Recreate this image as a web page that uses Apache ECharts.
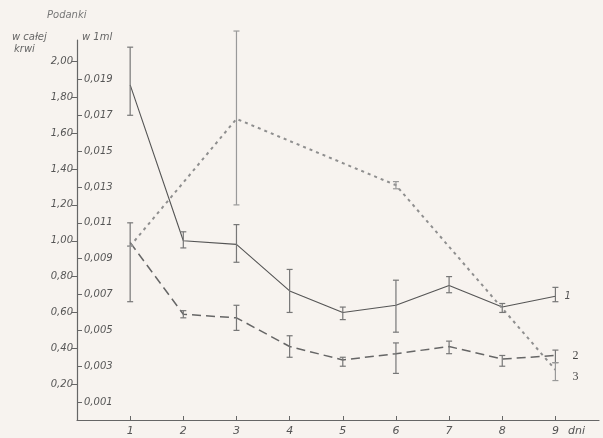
<!DOCTYPE html>
<html><head><meta charset="utf-8">
<script src="https://cdn.jsdelivr.net/npm/echarts@6/dist/echarts.min.js"></script>
<style>html,body{margin:0;padding:0;background:#f7f3ef}#c{width:603px;height:438px}</style>
</head><body><div id="c"></div>
<script>
const days = [1,2,3,4,5,6,7,8,9];
const s1 = [1.87,1.00,0.98,0.72,0.60,0.64,0.75,0.63,0.69];
const s1Low = [1.70,0.96,0.88,0.60,0.56,0.49,0.71,0.60,0.66];
const s1High = [2.08,1.05,1.09,0.84,0.63,0.78,0.80,0.65,0.74];
const s2 = [0.99,0.59,0.57,0.41,0.335,0.37,0.41,0.34,0.36];
const s2Low = [0.66,0.57,0.50,0.35,0.30,0.26,0.37,0.30,0.32];
const s2High = [1.10,0.61,0.64,0.47,0.35,0.43,0.44,0.36,0.39];
const s3Days = [1,3,6,9];
const s3 = [0.97,1.68,1.31,0.28];
const s3Low = [0.97,1.20,1.29,0.22];
const s3High = [0.97,2.17,1.33,0.32];
const leftTicks = [0.2,0.4,0.6,0.8,1.0,1.2,1.4,1.6,1.8,2.0];
const rightTicks = [0.1,0.3,0.5,0.7,0.9,1.1,1.3,1.5,1.7,1.9];
const xTicks = [1,2,3,4,5,6,7,8,9];

const FONT = 'DejaVu Sans';
const txt = {fontFamily: FONT, fontStyle: 'italic', fontSize: 10, color: '#555'};

function errData(xs, lo, hi){ return xs.map((d,i)=>[d, lo[i], hi[i]]); }
function errSeries(data, color){
  return {type:'custom', clip:false, silent:true, z:3,
    renderItem(params, api){
      const x = api.value(0);
      const p1 = api.coord([x, api.value(1)]);
      const p2 = api.coord([x, api.value(2)]);
      const w = 3;
      const st = {stroke: color, lineWidth: 1.2};
      return {type:'group', children:[
        {type:'line', shape:{x1:p1[0],y1:p1[1],x2:p2[0],y2:p2[1]}, style:st},
        {type:'line', shape:{x1:p1[0]-w,y1:p1[1],x2:p1[0]+w,y2:p1[1]}, style:st},
        {type:'line', shape:{x1:p2[0]-w,y1:p2[1],x2:p2[0]+w,y2:p2[1]}, style:st}
      ]};
    }, data};
}

const chart = echarts.init(document.getElementById('c'), null, {renderer:'canvas'});
chart.setOption({
  backgroundColor:'#f7f3ef',
  animation:false,
  grid:{left:77, right:4, top:40, bottom:18},
  xAxis:{type:'value', min:0, max:9.82,
    axisLine:{lineStyle:{color:'#666', width:1.2}},
    axisTick:{inside:true, length:4, customValues:xTicks, lineStyle:{color:'#666'}},
    axisLabel:{customValues:xTicks, margin:6, ...txt, fontSize:11},
    splitLine:{show:false}},
  yAxis:[
    {type:'value', min:0, max:2.12, position:'left',
      axisLine:{show:true, lineStyle:{color:'#666', width:1.2}},
      axisTick:{show:true, length:5, customValues:leftTicks, lineStyle:{color:'#666'}},
      axisLabel:{customValues:leftTicks, margin:4, ...txt,
        formatter:v=>v.toFixed(2).replace('.',',')},
      splitLine:{show:false}},
    {type:'value', min:0, max:2.12, position:'left',
      axisLine:{show:false},
      axisTick:{show:true, inside:true, length:5, customValues:rightTicks, lineStyle:{color:'#666'}},
      axisLabel:{inside:true, customValues:rightTicks, margin:7, ...txt,
        formatter:v=>(v/100).toFixed(3).replace('.',',')},
      splitLine:{show:false}}
  ],
  graphic:[
    {type:'text', left:47, top:10, style:{text:'Podanki', font:'italic 10px DejaVu Sans', fill:'#777'}},
    {type:'text', left:12, top:32, style:{text:'w całej', font:'italic 10px DejaVu Sans', fill:'#666'}},
    {type:'text', left:14, top:44, style:{text:'krwi', font:'italic 10px DejaVu Sans', fill:'#666'}},
    {type:'text', left:82, top:32, style:{text:'w 1ml', font:'italic 10px DejaVu Sans', fill:'#666'}},
    {type:'text', left:568, top:426, style:{text:'dni', font:'italic 11px DejaVu Sans', fill:'#555'}}
  ],
  series:[
    {type:'line', data:days.map((d,i)=>[d,s1[i]]), symbol:'none', z:2,
      lineStyle:{color:'#555', width:1.1},
      endLabel:{show:true, formatter:'1', distance:9, ...txt, fontSize:10}},
    {type:'line', data:days.map((d,i)=>[d,s2[i]]), symbol:'none', z:2,
      lineStyle:{color:'#666', width:1.5, type:[9,5]},
      endLabel:{show:true, formatter:'2', distance:17, fontFamily:'Liberation Serif', fontSize:12, color:'#444'}},
    {type:'line', data:s3Days.map((d,i)=>[d,s3[i]]), symbol:'none', z:2,
      lineStyle:{color:'#8f8f8f', width:2, type:[3,4]},
      endLabel:{show:true, formatter:'3', distance:17, offset:[0,7], fontFamily:'Liberation Serif', fontSize:12, color:'#444'}},
    errSeries(errData(days, s1Low, s1High), '#777'),
    errSeries(errData(days, s2Low, s2High), '#777'),
    errSeries(errData(s3Days, s3Low, s3High), '#999')
  ]
});
</script></body></html>
